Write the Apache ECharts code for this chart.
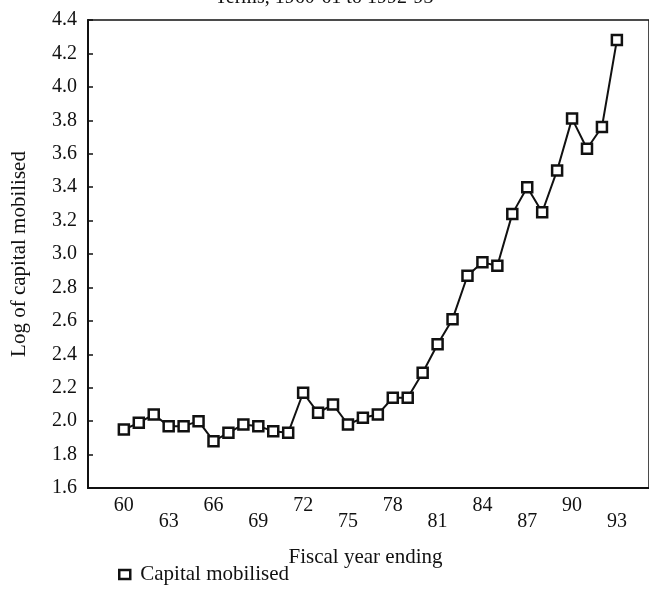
<!DOCTYPE html>
<html>
<head>
<meta charset="utf-8">
<script src="https://cdn.jsdelivr.net/npm/echarts@6/dist/echarts.min.js"></script>
<style>
  html, body { margin: 0; padding: 0; background: #fff; }
  #chart { width: 649px; height: 592px; }
</style>
</head>
<body>
<div id="chart"></div>
<script>
// fiscal years (19xx) and log of capital mobilised
const years = [60, 61, 62, 63, 64, 65, 66, 67, 68, 69, 70, 71, 72, 73, 74, 75, 76,
  77, 78, 79, 80, 81, 82, 83, 84, 85, 86, 87, 88, 89, 90, 91, 92, 93]
const capitalMobilised = [1.95, 1.99, 2.04, 1.97, 1.97, 2.00, 1.88, 1.93, 1.98, 1.97,
  1.94, 1.93, 2.17, 2.05, 2.10, 1.98, 2.02, 2.04, 2.14, 2.14, 2.29, 2.46, 2.61, 2.87,
  2.95, 2.93, 3.24, 3.40, 3.25, 3.50, 3.81, 3.63, 3.76, 4.28]
const xTickLabels = [60, 63, 66, 69, 72, 75, 78, 81, 84, 87, 90, 93]

const font = 'Liberation Serif'
const ink = '#111'

const chart = echarts.init(document.getElementById('chart'), null, { renderer: 'canvas' })

chart.setOption({
  animation: false,
  backgroundColor: '#fff',
  textStyle: { fontFamily: font, color: ink },
  title: {
    text: 'Terms, 1960-61 to 1992-93',
    left: 210,
    top: -17,
    textStyle: { fontFamily: font, fontSize: 20, fontWeight: 'normal', color: ink }
  },
  grid: {
    left: 88, top: 20, right: 0, bottom: 104,
    show: true, borderColor: ink, borderWidth: 1.5
  },
  legend: {
    left: 113, top: 559,
    icon: 'rect', itemWidth: 11, itemHeight: 9,
    itemStyle: { color: '#fff', borderColor: ink, borderWidth: 2.5 },
    textStyle: { fontFamily: font, fontSize: 21, color: ink, padding: [0, 0, 0, 5] }
  },
  xAxis: {
    type: 'value',
    min: 57.6, max: 95.15,
    name: 'Fiscal year ending',
    nameLocation: 'middle',
    nameGap: 59,
    nameTextStyle: { fontFamily: font, fontSize: 21, color: ink, padding: [0, 6, 0, 0] },
    axisLine: { lineStyle: { color: ink, width: 2 } },
    axisTick: { show: false },
    splitLine: { show: false },
    axisLabel: {
      customValues: xTickLabels,
      margin: 10,
      lineHeight: 16,
      fontFamily: font, fontSize: 20, color: ink,
      formatter: v => (((v - 60) / 3) % 2 === 1 ? '\n' + v : '' + v)
    }
  },
  yAxis: {
    type: 'value',
    min: 1.6, max: 4.4, interval: 0.2,
    name: 'Log of capital mobilised',
    nameLocation: 'middle',
    nameGap: 58,
    nameTextStyle: { fontFamily: font, fontSize: 21, color: ink },
    axisLine: { show: true, lineStyle: { color: ink, width: 2 } },
    axisTick: { show: true, inside: true, length: 5, lineStyle: { color: ink, width: 1.5 } },
    splitLine: { show: false },
    axisLabel: {
      margin: 11,
      fontFamily: font, fontSize: 20, color: ink,
      formatter: v => v.toFixed(1)
    }
  },
  series: [{
    name: 'Capital mobilised',
    type: 'line',
    data: years.map((y, i) => [y, capitalMobilised[i]]),
    symbol: 'rect',
    symbolSize: 10,
    lineStyle: { color: ink, width: 2 },
    itemStyle: { color: '#fff', borderColor: ink, borderWidth: 2.5 }
  }]
})
</script>
</body>
</html>
